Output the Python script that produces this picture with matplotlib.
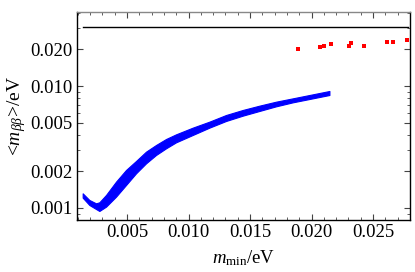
import matplotlib
matplotlib.use("Agg")
import matplotlib.pyplot as plt
from matplotlib.ticker import FixedLocator, NullFormatter, LogLocator

plt.rcParams['font.family'] = ['Liberation Serif', 'DejaVu Serif']
plt.rcParams['mathtext.fontset'] = 'custom'
plt.rcParams['mathtext.rm'] = 'Liberation Serif'
plt.rcParams['mathtext.it'] = 'Liberation Serif:italic'

# Blue band (edges of the scattered region)
band_x = [0.001396, 0.001938, 0.002480, 0.002751, 0.003293, 0.004106, 0.004919,
          0.005732, 0.006545, 0.007358, 0.008171, 0.008984, 0.010339, 0.011694,
          0.013049, 0.014404, 0.015759, 0.017114, 0.018469, 0.019824, 0.021450]
band_upper = [0.001319, 0.001163, 0.001092, 0.001113, 0.001278, 0.001644, 0.002049,
              0.002428, 0.002895, 0.003284, 0.003677, 0.004016, 0.004555, 0.005102,
              0.005785, 0.006359, 0.006900, 0.007439, 0.007921, 0.008437, 0.009101]
band_lower = [0.001215, 0.001058, 0.000981, 0.000945, 0.001025, 0.001238, 0.001543,
              0.001924, 0.002323, 0.002719, 0.003084, 0.003453, 0.003966, 0.004555,
              0.005167, 0.005711, 0.006240, 0.006813, 0.007345, 0.007822, 0.008437]

# Red points
red_x = [0.01888, 0.02069, 0.02104, 0.02158, 0.02307, 0.02324, 0.02429, 0.02611, 0.02662, 0.02774]
red_y = [0.0201, 0.0208, 0.0213, 0.0221, 0.0212, 0.0225, 0.0213, 0.0231, 0.0229, 0.0238]

# Horizontal black line
hline_y = 0.0305
hline_x = [0.0014, 0.0278]

xticks = [0.005, 0.010, 0.015, 0.020, 0.025]
xticklabels = ['0.005', '0.010', '0.015', '0.020', '0.025']
yticks = [0.001, 0.002, 0.005, 0.010, 0.020]
yticklabels = ['0.001', '0.002', '0.005', '0.010', '0.020']

fig = plt.figure(figsize=(4.15, 2.72), dpi=100)
ax = fig.add_axes([77/415, 1-220/272, (410-77)/415, (220-12)/272])

ax.fill_between(band_x, band_lower, band_upper, color='#0000ff', lw=0.8, edgecolor='#0000ff')
ax.plot(red_x, red_y, 's', color='#ff0000', ms=2.4, mew=0)
ax.plot(hline_x, [hline_y, hline_y], color='black', lw=1.0)

ax.set_yscale('log')
ax.set_xlim(0.000935, 0.0280)
ax.set_ylim(0.000797, 0.04043)

ax.xaxis.set_major_locator(FixedLocator(xticks))
ax.set_xticklabels(xticklabels)
ax.xaxis.set_minor_locator(FixedLocator([i*0.001 for i in range(1, 29)]))
ax.yaxis.set_major_locator(FixedLocator(yticks))
ax.set_yticklabels(yticklabels)
ax.yaxis.set_minor_locator(LogLocator(base=10, subs=range(1, 10)))
ax.yaxis.set_minor_formatter(NullFormatter())

ax.tick_params(which='both', direction='in', top=True, right=True, labelsize=13.5,
               pad=3, color='#444444')
ax.tick_params(which='major', length=4, width=0.8)
ax.tick_params(which='minor', length=2, width=0.6)

for s in ['left', 'bottom', 'right']:
    ax.spines[s].set_color('black')
    ax.spines[s].set_linewidth(1.0)
ax.spines['top'].set_color('#888888')
ax.spines['top'].set_linewidth(1.0)

ax.set_xlabel(r'$m_{\mathrm{min}}$/eV', fontsize=13.5, labelpad=5)
ax.set_ylabel(r'<$m_{\beta\beta}$>/eV', fontsize=14, labelpad=2)

fig.savefig('out.png', dpi=100)
